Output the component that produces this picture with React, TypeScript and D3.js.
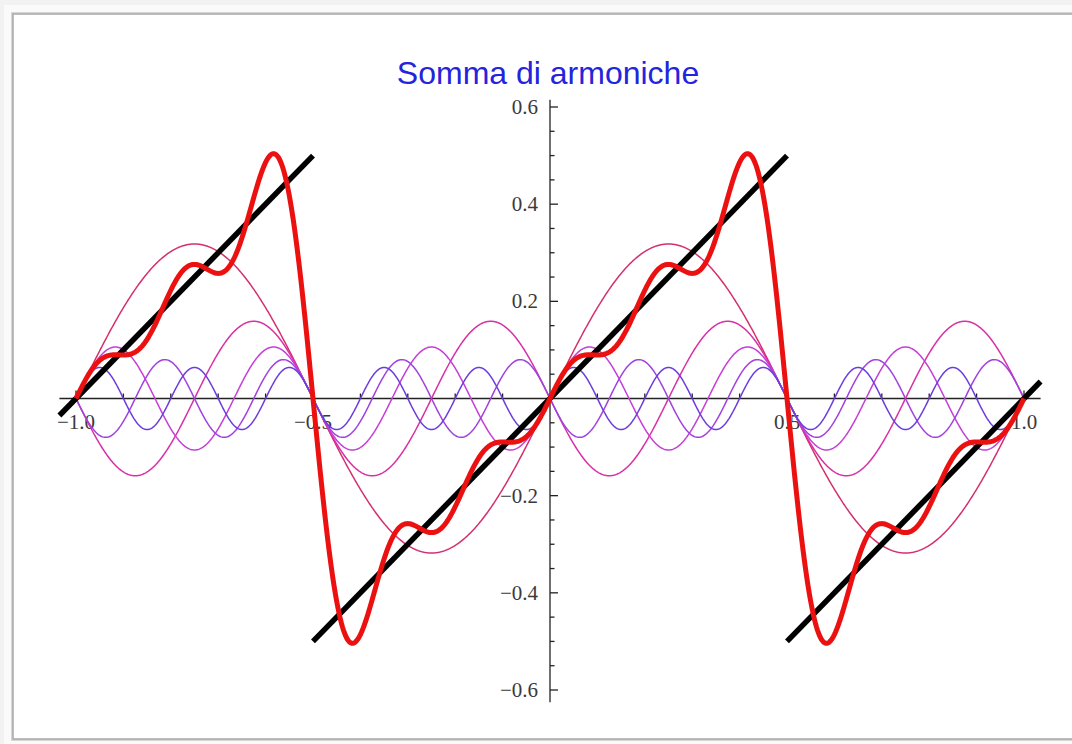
import React from "react";
import * as d3 from "d3";

// armoniche: numero, ampiezza, segno
const harmonicN = [1, 2, 3, 4, 5];
const harmonicAmp = [0.318, 0.159, 0.106, 0.08, 0.064];
const harmonicSign = [1, -1, 1, -1, 1];
const harmonicColors = ["#d3306f", "#d831a6", "#c63ed8", "#a141de", "#6c3ddc"];

// dente di sega (nero): segmenti [x0, y0, x1, y1]
const sawSegments = [
  [-1.035, -0.035, -0.5, 0.5],
  [-0.5, -0.5, 0.5, 0.5],
  [0.5, -0.5, 1.035, 0.035],
];

const xLabels = [-1.0, -0.5, 0.5, 1.0];
const yLabels = [-0.6, -0.4, -0.2, 0.2, 0.4, 0.6];

const W = 1072;
const H = 744;

const fmt = (v: number) => (v < 0 ? "\u2212" : "") + Math.abs(v).toFixed(1);

export default function App() {
  const x = d3.scaleLinear().domain([-1, 1]).range([76, 1024]);
  const y = d3.scaleLinear().domain([-0.6, 0.6]).range([690, 107]);

  const xs = d3.range(-1, 1.00001, 0.002);
  const harm = (i: number, t: number) =>
    harmonicSign[i] * harmonicAmp[i] * Math.sin(2 * Math.PI * harmonicN[i] * t);

  const line = d3
    .line<[number, number]>()
    .x((d) => x(d[0]))
    .y((d) => y(d[1]));

  const harmonicPaths = harmonicN.map((_, i) =>
    line(xs.map((t) => [t, harm(i, t)] as [number, number]))
  );
  const sumPath = line(
    xs.map((t) => [t, d3.sum(harmonicN, (_, i) => harm(i, t))] as [number, number])
  );

  const xMinor = d3.range(-10, 11).map((k) => k / 10).filter((v) => v !== 0);
  const yMinor = d3.range(-12, 13).map((k) => k / 20).filter((v) => v !== 0);
  const isMajorY = (v: number) => Math.abs(Math.round(v * 5) - v * 5) < 1e-6;
  const isMajorX = (v: number) => Math.abs(Math.round(v * 2) - v * 2) < 1e-6;

  const x0 = x(0);
  const y0 = y(0);

  return (
    <svg
      width={W}
      height={H}
      style={{ position: "absolute", left: 0, top: 0, display: "block" }}
    >
      <rect x={0} y={0} width={W} height={H} fill="#f2f2f2" />
      <rect x={4} y={5} width={W} height={H - 2} fill="#fafafa" />
      <rect x={13} y={14} width={W + 20} height={725} fill="#ffffff" stroke="#d6d6d6" strokeWidth={4} />
      <rect x={13} y={14} width={W + 20} height={725} fill="#ffffff" stroke="#a9a9a9" strokeWidth={1.5} />

      {/* assi */}
      <g stroke="#222" strokeWidth={1.3} fill="none">
        <line x1={x(-1.035)} x2={x(1.035)} y1={y0} y2={y0} />
        <line x1={x0} x2={x0} y1={y(0.615)} y2={y(-0.625)} />
        {xMinor.map((v) => (
          <line
            key={"xt" + v}
            x1={x(v)}
            x2={x(v)}
            y1={y0}
            y2={y0 - (isMajorX(v) ? 8 : 5)}
          />
        ))}
        {yMinor.map((v) => (
          <line
            key={"yt" + v}
            x1={x0}
            x2={x0 + (isMajorY(v) ? 8 : 4.5)}
            y1={y(v)}
            y2={y(v)}
          />
        ))}
      </g>
      <g fontFamily="'Liberation Serif', 'Times New Roman', serif" fontSize={21} fill="#3a3a3a">
        {xLabels.map((v) => (
          <text key={"xl" + v} x={x(v)} y={y0 + 30} textAnchor="middle">
            {fmt(v)}
          </text>
        ))}
        {yLabels.map((v) => (
          <text key={"yl" + v} x={x0 - 12} y={y(v) + 7} textAnchor="end">
            {fmt(v)}
          </text>
        ))}
      </g>

      {/* armoniche */}
      <g fill="none" strokeWidth={1.5}>
        {harmonicPaths.map((p, i) => (
          <path key={"h" + i} d={p || ""} stroke={harmonicColors[i]} />
        ))}
      </g>

      {/* dente di sega */}
      <g stroke="#000" strokeWidth={5.5} strokeLinecap="butt">
        {sawSegments.map((s, i) => (
          <line key={"s" + i} x1={x(s[0])} y1={y(s[1])} x2={x(s[2])} y2={y(s[3])} />
        ))}
      </g>

      {/* somma */}
      <path d={sumPath || ""} fill="none" stroke="#ec1111" strokeWidth={5} strokeLinejoin="round" />

      <text
        x={548}
        y={84}
        textAnchor="middle"
        fontFamily="'Liberation Sans', Arial, sans-serif"
        fontSize={32}
        fill="#2424dd"
      >
        Somma di armoniche
      </text>
    </svg>
  );
}
